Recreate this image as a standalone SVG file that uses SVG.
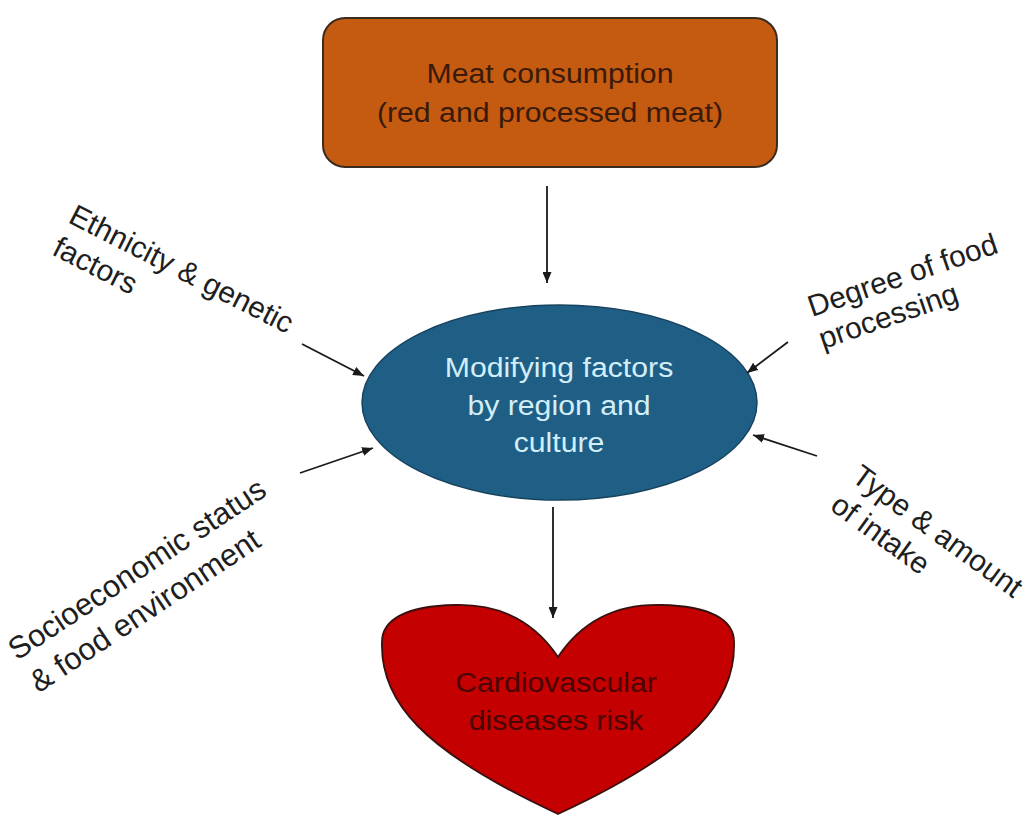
<svg xmlns="http://www.w3.org/2000/svg" width="1035" height="816" viewBox="0 0 1035 816">
<defs>
<marker id="ah" markerUnits="userSpaceOnUse" markerWidth="11" markerHeight="9" refX="11" refY="4.5" orient="auto">
<path d="M0,0 L11,4.5 L0,9 Z" fill="#1a1a1a"/>
</marker>
<style>
.lbl{font-family:"Liberation Sans",Arial,sans-serif;font-size:30px;fill:#1e1e1e;}
.ctr{font-family:"Liberation Sans",Arial,sans-serif;font-size:27px;text-anchor:middle;}
.con{stroke:#1a1a1a;stroke-width:1.8;fill:none;marker-end:url(#ah);}
</style>
</defs>
<rect width="1035" height="816" fill="#ffffff"/>

<g id="meat">
<rect x="323" y="18" width="454" height="149" rx="22" ry="22" fill="#C55A11" stroke="#3b2c20" stroke-width="2"/>
<text class="ctr" fill="#3a1a0a" transform="translate(550,83) scale(1.12,1)"><tspan x="0" y="0">Meat consumption</tspan><tspan x="0" y="39">(red and processed meat)</tspan></text>
</g>

<g id="modifying">
<ellipse cx="559.5" cy="402.5" rx="197.5" ry="97.5" fill="#1F5F86" stroke="#17435e" stroke-width="1.5"/>
<text class="ctr" fill="#D2EEF8" transform="translate(559,377) scale(1.12,1)"><tspan x="0" y="0">Modifying factors</tspan><tspan x="0" y="38">by region and</tspan><tspan x="0" y="75">culture</tspan></text>
</g>

<g id="cvd">
<path d="M558,657 C532,618 495,604 455,605 C405,606 382,620 382,642 C380,700 420,750 558,814 C696,750 736,700 734,642 C734,620 711,606 661,605 C621,604 584,618 558,657 Z" fill="#C40000" stroke="#3a1010" stroke-width="1.8"/>
<text class="ctr" fill="#4a0505" transform="translate(556,692) scale(1.12,1)"><tspan x="0" y="0">Cardiovascular</tspan><tspan x="0" y="38">diseases risk</tspan></text>
</g>

<g id="ethnicity">
<text class="lbl" transform="translate(67,222) rotate(27)"><tspan x="0" y="0">Ethnicity &amp; genetic</tspan><tspan x="0" y="36">factors</tspan></text>
</g>

<g id="degree">
<text class="lbl" transform="translate(812,317) rotate(-19)"><tspan x="0" y="0">Degree of food</tspan><tspan x="0" y="34">processing</tspan></text>
</g>

<g id="socio">
<text class="lbl" style="font-size:31px" transform="translate(17,661) rotate(-33.5)"><tspan x="0" y="0">Socioeconomic status</tspan><tspan x="0" y="39">&amp; food environment</tspan></text>
</g>

<g id="type">
<text class="lbl" transform="translate(850,480) rotate(36)"><tspan x="0" y="0">Type &amp; amount</tspan><tspan x="0" y="36">of intake</tspan></text>
</g>

<g id="connectors">
<line class="con" x1="547" y1="186" x2="547" y2="283"/>
<line class="con" x1="302" y1="344" x2="364" y2="376"/>
<line class="con" x1="788" y1="342" x2="747" y2="373"/>
<line class="con" x1="300" y1="473" x2="373" y2="448"/>
<line class="con" x1="817" y1="456" x2="753" y2="435"/>
<line class="con" x1="553" y1="507" x2="553" y2="618"/>
</g>
</svg>
